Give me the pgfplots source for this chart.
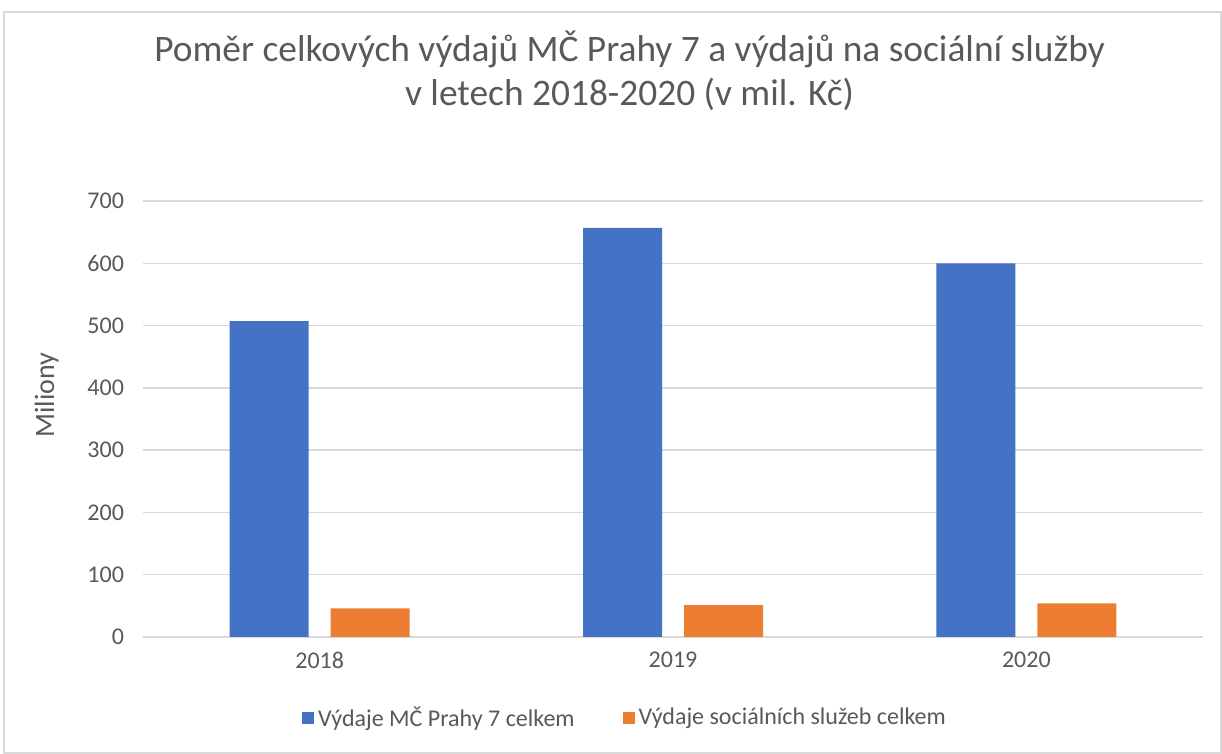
\documentclass[border=0pt]{standalone}
\usepackage{pgfplots}
\pgfplotsset{compat=1.18}
\usepackage{fontspec}
\setmainfont{Carlito}
\definecolor{xblue}{HTML}{4472C4}
\definecolor{xorange}{HTML}{ED7D31}
\definecolor{txt}{HTML}{595959}
\definecolor{gridc}{HTML}{D9D9D9}

\begin{document}
\begin{tikzpicture}
\path (0,0) rectangle (611pt,377pt);
\draw[gridc, line width=0.6pt] (2pt,0.5pt) rectangle (610.5pt,371pt);
\begin{axis}[
    at={(71.5pt,58.5pt)}, anchor=south west,
    scale only axis,
    width=530pt, height=218pt,
    ybar=11pt, bar width=39.5pt,
    xmin=-0.5, xmax=2.5,
    ymin=0, ymax=700,
    xtick=data,
    xticklabels={2018,2019,2020},
    ytick={0,100,...,700},
    ymajorgrids,
    grid style={gridc, line width=0.7pt},
    axis x line*=bottom,
    axis y line*=left,
    y axis line style={draw=none},
    x axis line style={gridc, line width=0.9pt, -},
    major tick length=0pt,
    tick label style={font=\fontsize{12}{14}\selectfont, text=txt},
    /pgf/number format/assume math mode=true,
    xticklabel style={yshift=-4pt},
    yticklabel style={xshift=-6pt},
    ylabel={Miliony},
    ylabel style={font=\fontsize{14}{16}\selectfont, text=txt, at={(rel axis cs:-0.091,0.555)}, anchor=center},
    title={Poměr celkových výdajů MČ Prahy 7 a výdajů na sociální služby\\v letech 2018-2020 (v mil. Kč)},
    title style={font=\fontsize{18.7}{22}\selectfont, text=txt, align=center, at={(rel axis cs:0.459,1.27)}, anchor=center},
    legend style={at={(rel axis cs:0.4557,-0.186)}, anchor=center, draw=none,
        legend columns=2, font=\fontsize{12}{14}\selectfont, text=txt,
        /tikz/every even column/.append style={column sep=22pt}},
    legend image code/.code={\fill[#1] (0pt,-3pt) rectangle (6pt,3pt);},
    clip=false,
]
\addplot[fill=xblue, draw=none] coordinates {(0,507) (1,657) (2,600)};
\addplot[fill=xorange, draw=none] coordinates {(0,46) (1,51) (2,54)};
\legend{Výdaje MČ Prahy 7 celkem, Výdaje sociálních služeb celkem}
\end{axis}
\end{tikzpicture}
\end{document}
